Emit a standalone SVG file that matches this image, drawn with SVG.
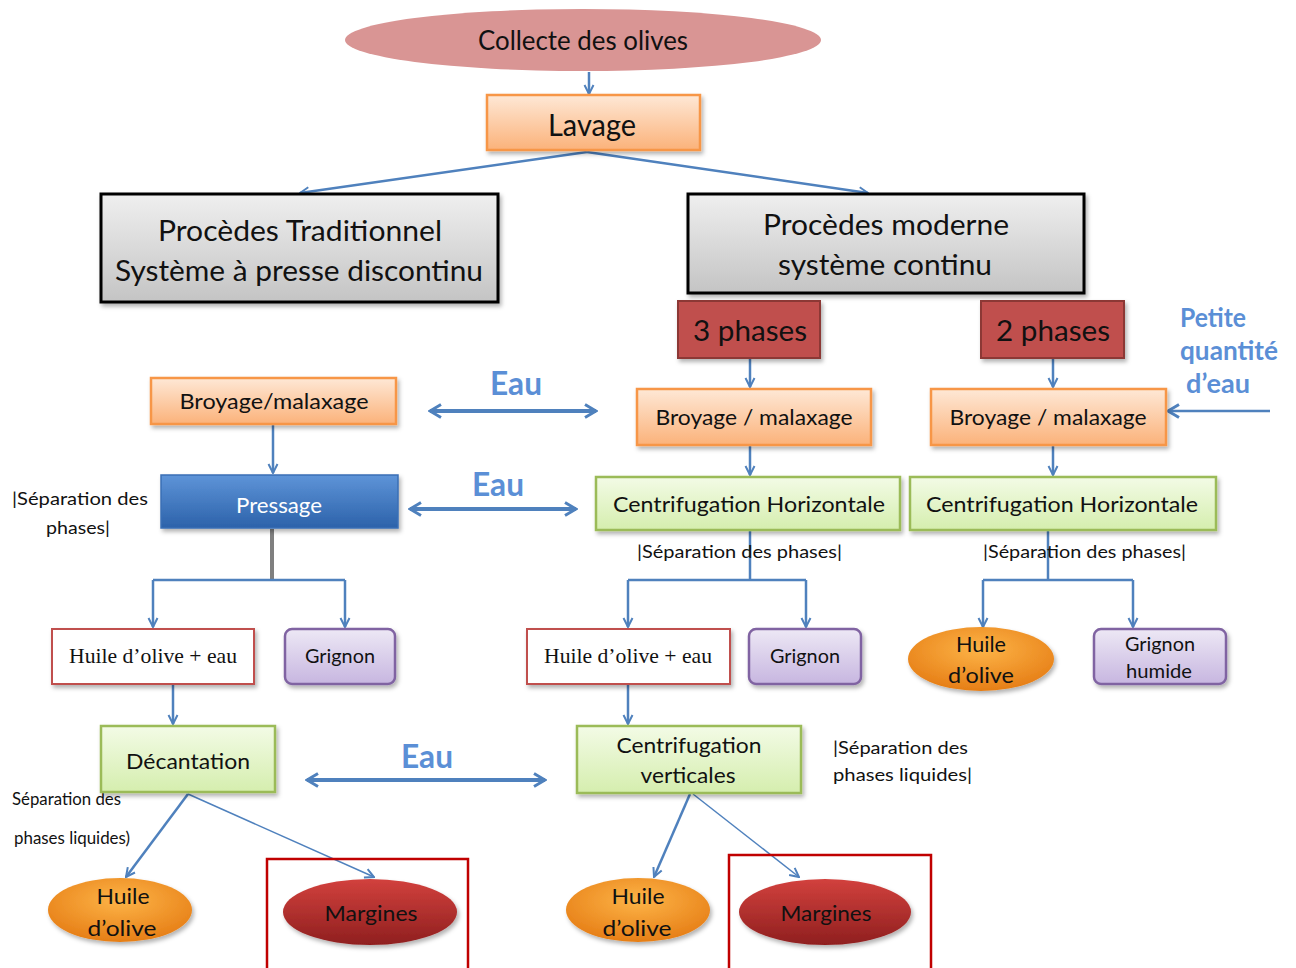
<svg xmlns="http://www.w3.org/2000/svg" width="1296" height="968" viewBox="0 0 1296 968">
  <defs>
    <style>
      .t { font-family: "Lato", "Liberation Sans", sans-serif; fill: #111; text-anchor: middle; }
      .serif { font-family: "Liberation Serif", "DejaVu Serif", serif; fill: #111; text-anchor: middle; }
      .note { font-family: "Lato", "Liberation Sans", sans-serif; fill: #111; font-size: 17px; }
      .eau { font-family: "Lato", "Liberation Sans", sans-serif; fill: #5b8fd6; font-weight: bold; text-anchor: middle; }
      .ln { fill: none; stroke: #4f81bd; stroke-width: 2.5; }
      .thin { fill: none; stroke: #4f81bd; stroke-width: 1.5; }
      .dbl { fill: none; stroke: #4f81bd; stroke-width: 4; }
      .orange { fill: url(#gOrange); stroke: #f79646; stroke-width: 2.5; }
      .gray { fill: url(#gGray); stroke: #000; stroke-width: 3; }
      .phase { fill: #c0504d; stroke: #8c3836; stroke-width: 2; }
      .green { fill: url(#gGreen); stroke: #9bbb59; stroke-width: 2.5; }
      .purple { fill: url(#gPurple); stroke: #8064a2; stroke-width: 2.5; }
      .white { fill: #fff; stroke: #c0504d; stroke-width: 2; }
      .oil { fill: url(#gOil); }
      .marg { fill: url(#gMarg); }
      .frame { fill: none; stroke: #c00000; stroke-width: 2.5; }
    </style>
    <linearGradient id="gOrange" x1="0" y1="0" x2="0" y2="1">
      <stop offset="0" stop-color="#fee8d6"/>
      <stop offset="1" stop-color="#fbb27a"/>
    </linearGradient>
    <linearGradient id="gGray" x1="0" y1="0" x2="0" y2="1">
      <stop offset="0" stop-color="#efefef"/>
      <stop offset="1" stop-color="#c4c4c4"/>
    </linearGradient>
    <linearGradient id="gGreen" x1="0" y1="0" x2="0" y2="1">
      <stop offset="0" stop-color="#f3fbe6"/>
      <stop offset="1" stop-color="#d5eeae"/>
    </linearGradient>
    <linearGradient id="gPurple" x1="0" y1="0" x2="0" y2="1">
      <stop offset="0" stop-color="#ede8f5"/>
      <stop offset="1" stop-color="#c7b6e0"/>
    </linearGradient>
    <linearGradient id="gBlue" x1="0" y1="0" x2="0" y2="1">
      <stop offset="0" stop-color="#5e94d8"/>
      <stop offset="1" stop-color="#2c62aa"/>
    </linearGradient>
    <radialGradient id="gOil" cx="0.5" cy="0.35" r="0.65">
      <stop offset="0" stop-color="#fdb447"/>
      <stop offset="1" stop-color="#e67e16"/>
    </radialGradient>
    <linearGradient id="gMarg" x1="0" y1="0" x2="0" y2="1">
      <stop offset="0" stop-color="#d2413d"/>
      <stop offset="1" stop-color="#8f1f1f"/>
    </linearGradient>
    <filter id="sh" x="-10%" y="-10%" width="125%" height="140%">
      <feDropShadow dx="2" dy="3" stdDeviation="2" flood-color="#000" flood-opacity="0.3"/>
    </filter>
    <marker id="arr" viewBox="0 0 12 12" refX="11" refY="6" markerWidth="12" markerHeight="12" markerUnits="userSpaceOnUse" orient="auto-start-reverse">
      <path d="M2,1.5 L11,6 L2,10.5" fill="none" stroke="#4f81bd" stroke-width="2"/>
    </marker>
    <marker id="arrB" viewBox="0 0 16 16" refX="14" refY="8" markerWidth="16" markerHeight="16" markerUnits="userSpaceOnUse" orient="auto-start-reverse">
      <path d="M3,1.5 L14,8 L3,14.5" fill="none" stroke="#4f81bd" stroke-width="3"/>
    </marker>
  </defs>

  <rect width="1296" height="968" fill="#fff"/>

  <!-- connectors -->
  <g id="connectors">
    <path class="ln" d="M589,72 V94" marker-end="url(#arr)"/>
    <path class="ln" d="M587,152 L300,193" stroke-width="3" marker-end="url(#arr)"/>
    <path class="ln" d="M587,152 L868,193" stroke-width="3" marker-end="url(#arr)"/>

    <!-- traditional chain -->
    <path class="ln" d="M273,424 V473" marker-end="url(#arr)"/>
    <path d="M272,529 V580" fill="none" stroke="#7f7f7f" stroke-width="4"/>
    <path class="ln" d="M153,580 H345"/>
    <path class="ln" d="M153,580 V627" marker-end="url(#arr)"/>
    <path class="ln" d="M345,580 V627" marker-end="url(#arr)"/>
    <path class="ln" d="M173,685 V724" marker-end="url(#arr)"/>
    <path class="ln" d="M188,794 L126,877" marker-end="url(#arr)"/>
    <path class="thin" d="M188,794 L374,877" marker-end="url(#arr)"/>

    <!-- 3 phases chain -->
    <path class="ln" d="M750,359 V387" marker-end="url(#arr)"/>
    <path class="ln" d="M750,446 V475" marker-end="url(#arr)"/>
    <path class="ln" d="M750,531 V580"/>
    <path class="ln" d="M628,580 H806"/>
    <path class="ln" d="M628,580 V627" marker-end="url(#arr)"/>
    <path class="ln" d="M806,580 V627" marker-end="url(#arr)"/>
    <path class="ln" d="M628,685 V724" marker-end="url(#arr)"/>
    <path class="ln" d="M690,794 L654,877" marker-end="url(#arr)"/>
    <path class="thin" d="M693,794 L799,877" marker-end="url(#arr)"/>

    <!-- 2 phases chain -->
    <path class="ln" d="M1053,359 V387" marker-end="url(#arr)"/>
    <path class="ln" d="M1053,446 V475" marker-end="url(#arr)"/>
    <path class="ln" d="M1048,531 V580"/>
    <path class="ln" d="M983,580 H1133"/>
    <path class="ln" d="M983,580 V627" marker-end="url(#arr)"/>
    <path class="ln" d="M1133,580 V627" marker-end="url(#arr)"/>
    <path class="ln" d="M1270,411 H1168" stroke-width="3" marker-end="url(#arrB)"/>

    <!-- water exchanges -->
    <path class="dbl" d="M430,411 H596" marker-start="url(#arrB)" marker-end="url(#arrB)"/>
    <path class="dbl" d="M410,509 H576" marker-start="url(#arrB)" marker-end="url(#arrB)"/>
    <path class="dbl" d="M307,780 H545" marker-start="url(#arrB)" marker-end="url(#arrB)"/>
  </g>

  <!-- water labels -->
  <text class="eau" x="516" y="395" font-size="32" textLength="52" lengthAdjust="spacingAndGlyphs">Eau</text>
  <text class="eau" x="498" y="496" font-size="32" textLength="52" lengthAdjust="spacingAndGlyphs">Eau</text>
  <text class="eau" x="427" y="768" font-size="32" textLength="52" lengthAdjust="spacingAndGlyphs">Eau</text>
  <g id="petite-eau">
    <text class="eau" x="1213" y="327" font-size="27" textLength="66" lengthAdjust="spacingAndGlyphs">Petite</text>
    <text class="eau" x="1229" y="360" font-size="27" textLength="98" lengthAdjust="spacingAndGlyphs">quantité</text>
    <text class="eau" x="1218" y="393" font-size="27" textLength="64" lengthAdjust="spacingAndGlyphs">d’eau</text>
  </g>

  <!-- side notes -->
  <text class="note" x="12" y="505" textLength="136" lengthAdjust="spacingAndGlyphs">|Séparation des</text>
  <text class="note" x="46" y="534" textLength="64" lengthAdjust="spacingAndGlyphs">phases|</text>
  <text class="note" x="637" y="558" textLength="205" lengthAdjust="spacingAndGlyphs">|Séparation des phases|</text>
  <text class="note" x="983" y="558" textLength="203" lengthAdjust="spacingAndGlyphs">|Séparation des phases|</text>
  <text class="note" x="833" y="754" textLength="135" lengthAdjust="spacingAndGlyphs">|Séparation des</text>
  <text class="note" x="833" y="781" textLength="139" lengthAdjust="spacingAndGlyphs">phases liquides|</text>
  <text class="note" x="12" y="805" font-size="14" textLength="109" lengthAdjust="spacingAndGlyphs">Séparation des</text>
  <text class="note" x="14" y="844" font-size="14" textLength="116" lengthAdjust="spacingAndGlyphs">phases liquides)</text>

  <!-- nodes -->
  <g id="collecte">
    <ellipse cx="583" cy="40" rx="238" ry="31" fill="#d99594"/>
    <text class="t" x="583" y="50" font-size="27" textLength="210" lengthAdjust="spacingAndGlyphs">Collecte des olives</text>
  </g>
  <g id="lavage">
    <rect class="orange" x="487" y="95" width="213" height="55" filter="url(#sh)"/>
    <text class="t" x="592" y="136" font-size="30" textLength="88" lengthAdjust="spacingAndGlyphs">Lavage</text>
  </g>
  <g id="traditionnel">
    <rect class="gray" x="101" y="194" width="397" height="108" filter="url(#sh)"/>
    <text class="t" x="300" y="241" font-size="29" textLength="284" lengthAdjust="spacingAndGlyphs">Procèdes Traditionnel</text>
    <text class="t" x="299" y="281" font-size="29" textLength="368" lengthAdjust="spacingAndGlyphs">Système à presse discontinu</text>
  </g>
  <g id="moderne">
    <rect class="gray" x="688" y="194" width="396" height="99" filter="url(#sh)"/>
    <text class="t" x="886" y="235" font-size="29" textLength="246" lengthAdjust="spacingAndGlyphs">Procèdes moderne</text>
    <text class="t" x="885" y="275" font-size="29" textLength="214" lengthAdjust="spacingAndGlyphs">système continu</text>
  </g>
  <g id="trois-phases">
    <rect class="phase" x="678" y="301" width="142" height="57" filter="url(#sh)"/>
    <text class="t" x="750" y="341" font-size="29" textLength="114" lengthAdjust="spacingAndGlyphs">3 phases</text>
  </g>
  <g id="deux-phases">
    <rect class="phase" x="981" y="301" width="143" height="57" filter="url(#sh)"/>
    <text class="t" x="1053" y="341" font-size="29" textLength="114" lengthAdjust="spacingAndGlyphs">2 phases</text>
  </g>

  <g id="broyage-trad">
    <rect class="orange" x="151" y="378" width="245" height="46" filter="url(#sh)"/>
    <text class="t" x="274" y="409" font-size="22" textLength="189" lengthAdjust="spacingAndGlyphs">Broyage/malaxage</text>
  </g>
  <g id="broyage-3">
    <rect class="orange" x="637" y="389" width="234" height="56" filter="url(#sh)"/>
    <text class="t" x="754" y="425" font-size="22" textLength="197" lengthAdjust="spacingAndGlyphs">Broyage / malaxage</text>
  </g>
  <g id="broyage-2">
    <rect class="orange" x="931" y="389" width="235" height="56" filter="url(#sh)"/>
    <text class="t" x="1048" y="425" font-size="22" textLength="197" lengthAdjust="spacingAndGlyphs">Broyage / malaxage</text>
  </g>

  <g id="pressage">
    <rect x="161" y="475" width="237" height="53" fill="url(#gBlue)" stroke="#3a6fb5" stroke-width="1.5" filter="url(#sh)"/>
    <text class="t" x="279" y="513" font-size="21" fill="#fff" style="fill:#fff" textLength="86" lengthAdjust="spacingAndGlyphs">Pressage</text>
  </g>
  <g id="centri-h-3">
    <rect class="green" x="596" y="477" width="304" height="53" filter="url(#sh)"/>
    <text class="t" x="749" y="512" font-size="22" textLength="272" lengthAdjust="spacingAndGlyphs">Centrifugation Horizontale</text>
  </g>
  <g id="centri-h-2">
    <rect class="green" x="910" y="477" width="306" height="53" filter="url(#sh)"/>
    <text class="t" x="1062" y="512" font-size="22" textLength="272" lengthAdjust="spacingAndGlyphs">Centrifugation Horizontale</text>
  </g>

  <g id="huile-eau-trad">
    <rect class="white" x="52" y="629" width="202" height="55" filter="url(#sh)"/>
    <text class="serif" x="153" y="663" font-size="21" textLength="168" lengthAdjust="spacingAndGlyphs">Huile d’olive + eau</text>
  </g>
  <g id="grignon-trad">
    <rect class="purple" x="285" y="629" width="110" height="55" rx="7" filter="url(#sh)"/>
    <text class="t" x="340" y="663" font-size="20" textLength="70" lengthAdjust="spacingAndGlyphs">Grignon</text>
  </g>
  <g id="huile-eau-3">
    <rect class="white" x="527" y="629" width="203" height="55" filter="url(#sh)"/>
    <text class="serif" x="628" y="663" font-size="21" textLength="168" lengthAdjust="spacingAndGlyphs">Huile d’olive + eau</text>
  </g>
  <g id="grignon-3">
    <rect class="purple" x="749" y="629" width="112" height="55" rx="7" filter="url(#sh)"/>
    <text class="t" x="805" y="663" font-size="20" textLength="70" lengthAdjust="spacingAndGlyphs">Grignon</text>
  </g>
  <g id="huile-2">
    <ellipse class="oil" cx="981" cy="659" rx="73" ry="32" filter="url(#sh)"/>
    <text class="t" x="981" y="652" font-size="21" textLength="50" lengthAdjust="spacingAndGlyphs">Huile</text>
    <text class="t" x="981" y="683" font-size="21" textLength="66" lengthAdjust="spacingAndGlyphs">d’olive</text>
  </g>
  <g id="grignon-humide">
    <rect class="purple" x="1094" y="629" width="132" height="55" rx="7" filter="url(#sh)"/>
    <text class="t" x="1160" y="651" font-size="19" textLength="70" lengthAdjust="spacingAndGlyphs">Grignon</text>
    <text class="t" x="1159" y="678" font-size="19" textLength="66" lengthAdjust="spacingAndGlyphs">humide</text>
  </g>

  <g id="decantation">
    <rect class="green" x="101" y="726" width="174" height="66" filter="url(#sh)"/>
    <text class="t" x="188" y="769" font-size="22" textLength="124" lengthAdjust="spacingAndGlyphs">Décantation</text>
  </g>
  <g id="centri-v">
    <rect class="green" x="577" y="726" width="224" height="67" filter="url(#sh)"/>
    <text class="t" x="689" y="753" font-size="22" textLength="145" lengthAdjust="spacingAndGlyphs">Centrifugation</text>
    <text class="t" x="688" y="783" font-size="22" textLength="95" lengthAdjust="spacingAndGlyphs">verticales</text>
  </g>

  <g id="huile-trad">
    <ellipse class="oil" cx="120" cy="910" rx="72" ry="32" filter="url(#sh)"/>
    <text class="t" x="123" y="904" font-size="22" textLength="53" lengthAdjust="spacingAndGlyphs">Huile</text>
    <text class="t" x="122" y="936" font-size="22" textLength="69" lengthAdjust="spacingAndGlyphs">d’olive</text>
  </g>
  <g id="margines-trad">
    <rect class="frame" x="267" y="859" width="201" height="112"/>
    <ellipse class="marg" cx="370" cy="912" rx="87" ry="33" filter="url(#sh)"/>
    <text class="t" x="371" y="921" font-size="21" textLength="93" lengthAdjust="spacingAndGlyphs">Margines</text>
  </g>
  <g id="huile-3">
    <ellipse class="oil" cx="638" cy="910" rx="72" ry="32" filter="url(#sh)"/>
    <text class="t" x="638" y="904" font-size="22" textLength="53" lengthAdjust="spacingAndGlyphs">Huile</text>
    <text class="t" x="637" y="936" font-size="22" textLength="69" lengthAdjust="spacingAndGlyphs">d’olive</text>
  </g>
  <g id="margines-3">
    <rect class="frame" x="729" y="855" width="202" height="116"/>
    <ellipse class="marg" cx="825" cy="912" rx="86" ry="33" filter="url(#sh)"/>
    <text class="t" x="826" y="921" font-size="21" textLength="91" lengthAdjust="spacingAndGlyphs">Margines</text>
  </g>
</svg>
